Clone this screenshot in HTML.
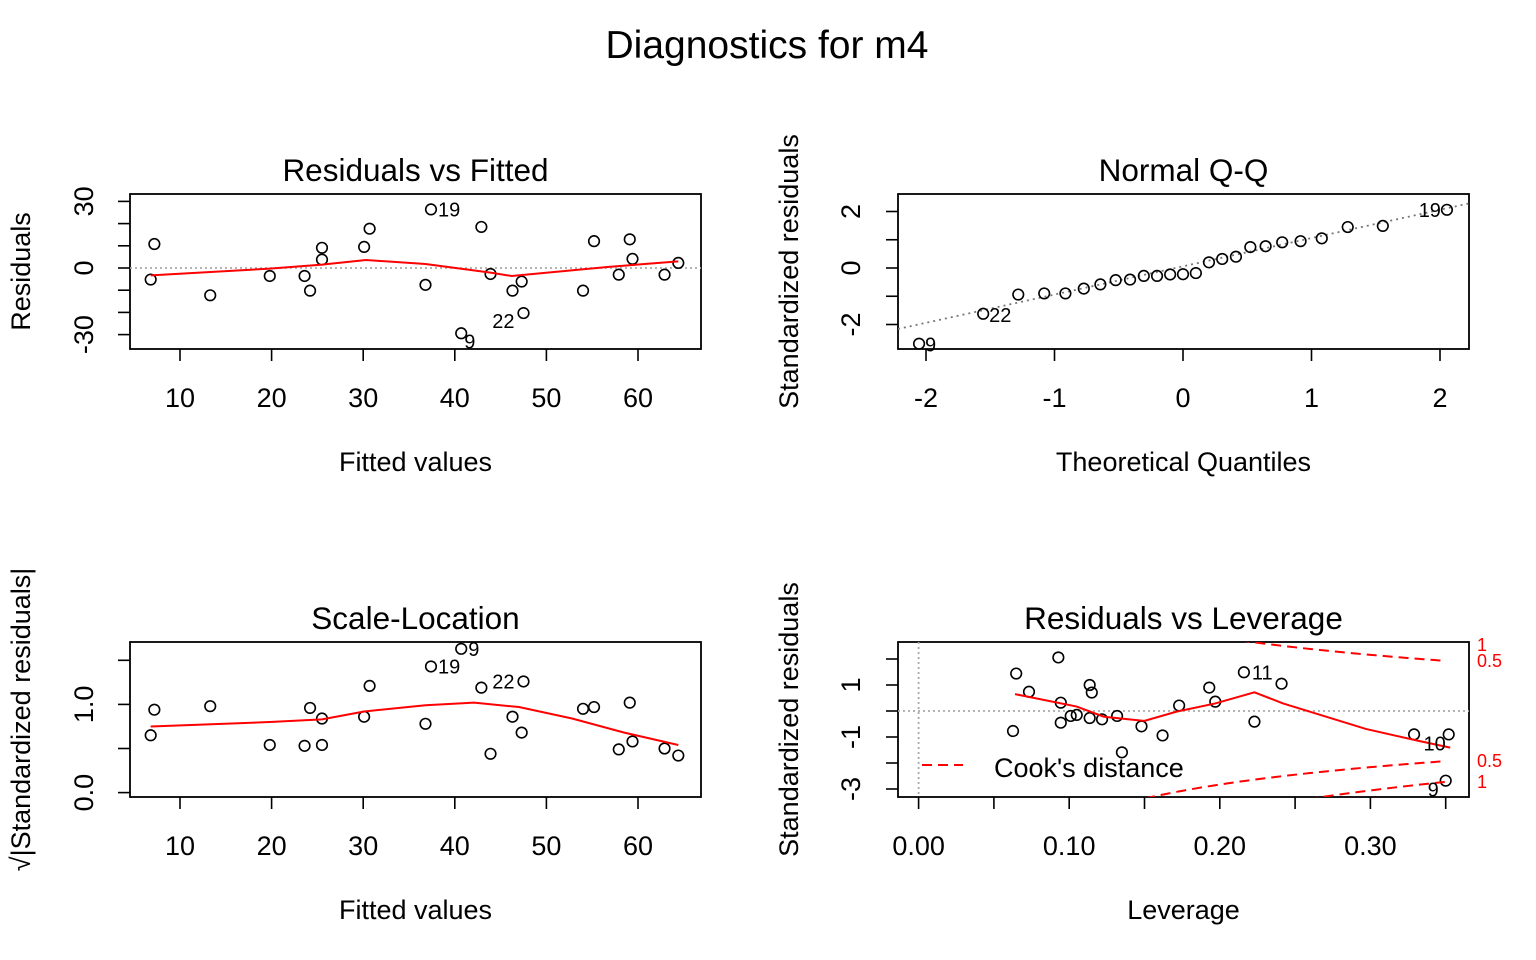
<!DOCTYPE html>
<html><head><meta charset="utf-8"><style>
html,body{margin:0;padding:0;background:#fff;overflow:hidden;width:1536px;height:960px;}
svg{display:block;font-family:"Liberation Sans",Arial,sans-serif;}
</style></head><body>
<svg id="chart" width="1536" height="960" viewBox="0 0 1536 960" xmlns="http://www.w3.org/2000/svg">
<text x="767" y="58" font-size="39" text-anchor="middle">Diagnostics for m4</text>
</svg>
<script>
// ---- data ----
const fitted = [7.2,6.8,13.3,19.8,23.6,24.2,25.5,25.5,30.1,30.7,36.8,37.4,40.7,42.9,43.9,46.3,47.3,47.5,54.0,55.2,57.9,59.1,59.4,62.9,64.4];
const residuals = [10.8,-5.2,-12.3,-3.6,-3.6,-10.2,9.1,3.8,9.5,17.7,-7.6,26.4,-29.4,18.5,-2.7,-10.2,-6.1,-20.3,-10.2,12.1,-3.0,12.9,4.1,-3.0,2.3];
const sqrtStdResid = [0.94,0.65,0.98,0.54,0.53,0.96,0.54,0.84,0.86,1.21,0.78,1.43,1.63,1.19,0.44,0.86,0.68,1.26,0.95,0.97,0.49,1.02,0.58,0.50,0.42];
const labelsFit = {11:"19",12:"9",17:"22"};
const smoothRF_x = [6.8,19.8,25.5,30.3,36.8,43.9,46.2,56.8,64.4];
const smoothRF_y = [-3.3,-0.3,1.5,3.6,1.8,-2.1,-3.6,0.5,3.0];
const smoothSL_x = [6.8,19.8,25.5,30.1,36.8,42.1,47.0,52.8,58.5,64.4];
const smoothSL_y = [0.75,0.80,0.83,0.92,0.99,1.02,0.97,0.84,0.68,0.54];
const theoQ = [-2.054,-1.555,-1.282,-1.080,-0.915,-0.772,-0.643,-0.524,-0.412,-0.305,-0.202,-0.100,0,0.100,0.202,0.305,0.412,0.524,0.643,0.772,0.915,1.080,1.282,1.555,2.054];
const sortedStdResid = [-2.68,-1.62,-0.94,-0.90,-0.90,-0.73,-0.58,-0.43,-0.41,-0.28,-0.28,-0.23,-0.22,-0.18,0.20,0.32,0.40,0.74,0.77,0.91,0.95,1.05,1.45,1.49,2.06];
const qqLabels = {0:"9",1:"22",24:"19"};
const qqLine = [0.06,1.0];
const leverage = [0.0648,0.0627,0.0733,0.0928,0.0944,0.0944,0.101,0.105,0.1136,0.115,0.1136,0.1218,0.1318,0.135,0.148,0.162,0.173,0.193,0.197,0.216,0.223,0.241,0.329,0.352,0.350];
const levStdResid = [1.44,-0.77,0.74,2.06,0.32,-0.45,-0.19,-0.15,1.0,0.71,-0.27,-0.32,-0.19,-1.59,-0.59,-0.94,0.21,0.90,0.36,1.49,-0.41,1.05,-0.90,-0.90,-2.68];
const levLabels = {19:"11",23:"10",24:"9"};
const smoothLev_x = [0.064,0.105,0.123,0.150,0.171,0.197,0.223,0.242,0.297,0.332,0.353];
const smoothLev_y = [0.65,0.17,-0.22,-0.38,-0.03,0.29,0.72,0.29,-0.69,-1.15,-1.41];
const cookLevels = [0.5,1];
const nParams = 4;
const fitTicks = [10,20,30,40,50,60];
const resTicks = [-30,-20,-10,0,10,20,30];
const resTickLabels = [-30,0,30];
const qqXTicks = [-2,-1,0,1,2];
const qqYTicks = [-2,-1,0,1,2];
const qqYLabels = [-2,0,2];
const slYTicks = [0,0.5,1,1.5];
const slYLabels = ["0.0","1.0"];
const levXTicks = [0,0.05,0.1,0.15,0.2,0.25,0.3,0.35];
const levXLabels = ["0.00","0.10","0.20","0.30"];
const levYTicks = [-3,-2,-1,0,1,2];
const levYLabels = [-3,-1,1];

// ---- axis functions ----
const fx = v => 180 + (v-10)*9.16;
const ry = v => 268 - v*2.22;
const qx = v => 1183 + v*128.5;
const qy = v => 268 - v*28.25;
const sy = v => 792.6 - v*88.2;
const lx = v => 918.6 + v*1506;
const ly = v => 711 - v*26;

const svg = document.getElementById('chart');
const NS = 'http://www.w3.org/2000/svg';
function mk(tag, attrs, parent){const e=document.createElementNS(NS,tag);for(const k in attrs)e.setAttribute(k,attrs[k]);(parent||svg).appendChild(e);return e;}
function txt(x,y,s,size,anchor,rot,fill){const t=mk('text',{x:x,y:y,'font-size':size,'text-anchor':anchor||'middle',fill:fill||'#000'});if(rot)t.setAttribute('transform','rotate(-90 '+x+' '+y+')');t.textContent=s;return t;}

function panel(name,x0,y0,x1,y1,title,xlab,ylab,ylx){
  const g=mk('g',{});
  
  
  const r=mk('rect',{x:x0,y:y0,width:x1-x0,height:y1-y0,fill:'none',stroke:'#000','stroke-width':1.8},g);
  
  
  const t=txt((x0+x1)/2,y0-13,title,31.5);
  
  
  const xl=txt((x0+x1)/2,y1+122,xlab,27);
  
  
  const yl=txt(ylx,(y0+y1)/2,ylab,27,'middle',true);
  
  
  return g;
}
function xTicks(ticks,labels,f,y1){
  ticks.forEach(v=>{const l=mk('line',{x1:f(v),x2:f(v),y1:y1,y2:y1+12,stroke:'#000','stroke-width':1.6});
    
    });
  labels.forEach(v=>{const num=typeof v==='string'?parseFloat(v):v;const t=txt(f(num),y1+58,String(v),27);
    
    });
}
function yTicks(ticks,labels,f,x0,lxp){
  ticks.forEach(v=>{const l=mk('line',{x1:x0-12,x2:x0,y1:f(v),y2:f(v),stroke:'#000','stroke-width':1.6});
    
    });
  labels.forEach(v=>{const num=typeof v==='string'?parseFloat(v):v;const t=txt(lxp,f(num),String(v),27,'middle',true);
    t.setAttribute('dominant-baseline','middle');
    
    });
}
function clip(id,x0,y0,x1,y1){const c=mk('clipPath',{id:id});mk('rect',{x:x0,y:y0,width:x1-x0,height:y1-y0},c);}
function pts(xs,ys,f,g,name){
  xs.forEach((v,i)=>{const c=mk('circle',{cx:f(v),cy:g(ys[i]),r:5.3,fill:'none',stroke:'#000','stroke-width':1.6});
    
    });
}
function poly(xs,ys,f,g,attrs,name,clipId){
  const p=mk('polyline',Object.assign({points:xs.map((v,i)=>f(v)+','+g(ys[i])).join(' '),fill:'none'},attrs));
  if(clipId)p.setAttribute('clip-path','url(#'+clipId+')');
  
  
  return p;
}
function lab(x,y,s,anchor){const t=txt(x,y,s,20,anchor||'start');
  
  }

// Panel 1
panel('residuals-vs-fitted-panel',130,194,701,349,'Residuals vs Fitted','Fitted values','Residuals',30);
clip('c1',130,194,701,349);
const h1=mk('line',{x1:130,x2:701,y1:ry(0),y2:ry(0),stroke:'#aaa','stroke-width':1.8,'stroke-dasharray':'2,3'});


xTicks(fitTicks,fitTicks,fx,349);
yTicks(resTicks,resTickLabels,ry,130,86);
pts(fitted,residuals,fx,ry,'residual-point');
poly(smoothRF_x,smoothRF_y,fx,ry,{stroke:'#f00','stroke-width':2},'smooth-line','c1');
for(const i in labelsFit){const x=fx(fitted[i]),y=ry(residuals[i]);
  if(labelsFit[i]==='22') lab(x-9,y+15,labelsFit[i],'end'); else if(labelsFit[i]==='9') lab(x+3,y+15,labelsFit[i]); else lab(x+7,y+7,labelsFit[i]);}

// Panel 2
panel('normal-qq-panel',898,194,1469,349,'Normal Q-Q','Theoretical Quantiles','Standardized residuals',798);
clip('c2',898,194,1469,349);
const ql=mk('line',{x1:898,x2:1469,y1:qy(qqLine[0]+qqLine[1]*(898-1183)/128.5),y2:qy(qqLine[0]+qqLine[1]*(1469-1183)/128.5),stroke:'#777','stroke-width':1.8,'stroke-dasharray':'2,4','clip-path':'url(#c2)'});


xTicks(qqXTicks,qqXTicks,qx,349);
yTicks(qqYTicks,qqYLabels,qy,898,853);
pts(theoQ,sortedStdResid,qx,qy,'qq-point');
for(const i in qqLabels){const x=qx(theoQ[i]),y=qy(sortedStdResid[i]);
  if(qqLabels[i]==='19') lab(x-6,y+7,qqLabels[i],'end'); else lab(x+6,y+8,qqLabels[i]);}

// Panel 3
panel('scale-location-panel',130,642,701,797,'Scale-Location','Fitted values','√|Standardized residuals|',30);
clip('c3',130,642,701,797);
xTicks(fitTicks,fitTicks,fx,797);
yTicks(slYTicks,slYLabels,sy,130,86);
pts(fitted,sqrtStdResid,fx,sy,'sqrt-residual-point');
poly(smoothSL_x,smoothSL_y,fx,sy,{stroke:'#f00','stroke-width':2},'smooth-line','c3');
for(const i in labelsFit){const x=fx(fitted[i]),y=sy(sqrtStdResid[i]);
  if(labelsFit[i]==='22') lab(x-9,y+7,labelsFit[i],'end'); else lab(x+7,y+7,labelsFit[i]);}

// Panel 4
panel('residuals-vs-leverage-panel',898,642,1469,797,'Residuals vs Leverage','Leverage','Standardized residuals',798);
clip('c4',898,642,1469,797);
const h4=mk('line',{x1:898,x2:1469,y1:ly(0),y2:ly(0),stroke:'#aaa','stroke-width':1.8,'stroke-dasharray':'2,3'});


const v4=mk('line',{x1:lx(0),x2:lx(0),y1:642,y2:797,stroke:'#aaa','stroke-width':1.8,'stroke-dasharray':'2,3'});


xTicks(levXTicks,levXLabels,lx,797);
yTicks(levYTicks,levYLabels,ly,898,853);
pts(leverage,levStdResid,lx,ly,'leverage-point');
poly(smoothLev_x,smoothLev_y,lx,ly,{stroke:'#f00','stroke-width':2},'smooth-line','c4');
cookLevels.forEach(lv=>{
  [1,-1].forEach(sg=>{
    const hs=[],vs=[];
    for(let h=0.14;h<=0.3525;h+=0.0025){
      const v=Math.sqrt(lv*nParams*(1-h)/h);
      if(v>3.6) continue;
      hs.push(h);vs.push(sg*v);}
    poly(hs,vs,lx,ly,{stroke:'#f00','stroke-width':2,'stroke-dasharray':'10,6'},'cooks-distance-curve','c4');
    const yEnd=ly(sg*Math.sqrt(lv*nParams*(1-0.35)/0.35));
    const yl=Math.min(Math.max(yEnd,645),782);
    const t=txt(1477,yl+6,String(lv),18,'start',false,'#f00');
    
    
  });
});
for(const i in levLabels){const x=lx(leverage[i]),y=ly(levStdResid[i]);
  if(levLabels[i]==='11') lab(x+8,y+7,levLabels[i]);
  else if(levLabels[i]==='10') lab(x-3,y+16,levLabels[i],'end');
  else lab(x-7,y+16,levLabels[i],'end');}
const legL=mk('line',{x1:922,x2:963,y1:765,y2:765,stroke:'#f00','stroke-width':2,'stroke-dasharray':'10,6'});


const legT=txt(994,777,"Cook's distance",27,'start');


</script>
</body></html>
